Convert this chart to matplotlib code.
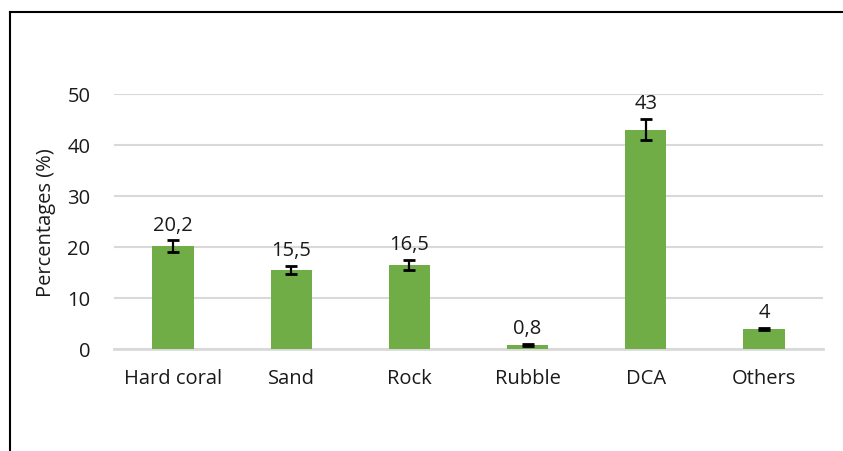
import matplotlib
matplotlib.use("Agg")
import matplotlib.pyplot as plt
from matplotlib.lines import Line2D

categories = ["Hard coral", "Sand", "Rock", "Rubble", "DCA", "Others"]
values = [20.2, 15.5, 16.5, 0.8, 43, 4]
errors = [1.1, 0.8, 1.0, 0.2, 2.1, 0.2]
labels = ["20,2", "15,5", "16,5", "0,8", "43", "4"]
yticks = [0, 10, 20, 30, 40, 50]

plt.rcParams['font.family'] = ['Open Sans', 'DejaVu Sans']
FS = 14.5

fig = plt.figure(figsize=(8.43, 4.52), dpi=100)
ax = fig.add_axes([114/843, 1-350/452, (823-114)/843, (350-95)/452])

x = list(range(len(categories)))
ax.bar(x, values, width=0.35, color="#70AD47", zorder=3)
ax.errorbar(x, values, yerr=errors, fmt="none", ecolor="black", elinewidth=1.6,
            capsize=4.5, capthick=2, zorder=4)
for xi, v, e, lab in zip(x, values, errors, labels):
    ax.annotate(lab, (xi, v + e), xytext=(0, 4), textcoords="offset points",
                ha="center", va="bottom", fontsize=FS, color="#1a1a1a")

ax.set_xlim(-0.5, len(categories) - 0.5)
ax.set_ylim(0, 50)
ax.set_yticks(yticks)
ax.set_xticks(x)
ax.set_xticklabels(categories)
ax.tick_params(axis="both", length=0, labelsize=FS, colors="#1a1a1a")
ax.tick_params(axis="x", pad=14)
ax.tick_params(axis="y", pad=17)
ax.yaxis.grid(True, color="#D9D9D9", linewidth=1.5, zorder=0)
ax.set_axisbelow(True)
for s in ["top", "right", "left"]:
    ax.spines[s].set_visible(False)
ax.spines["bottom"].set_color("#D9D9D9")
ax.spines["bottom"].set_linewidth(2)
ax.spines["bottom"].set_zorder(2)
ax.set_ylabel("Percentages (%)", fontsize=FS, color="#1a1a1a", labelpad=8)

# outer frame (top and left edges visible)
fig.add_artist(Line2D([9.5/843, 1.0], [1-13/452, 1-13/452], transform=fig.transFigure,
                      color="black", linewidth=1.5))
fig.add_artist(Line2D([9.5/843, 9.5/843], [0, 1-13/452], transform=fig.transFigure,
                      color="black", linewidth=1.5))

fig.savefig("out.png", dpi=100)
